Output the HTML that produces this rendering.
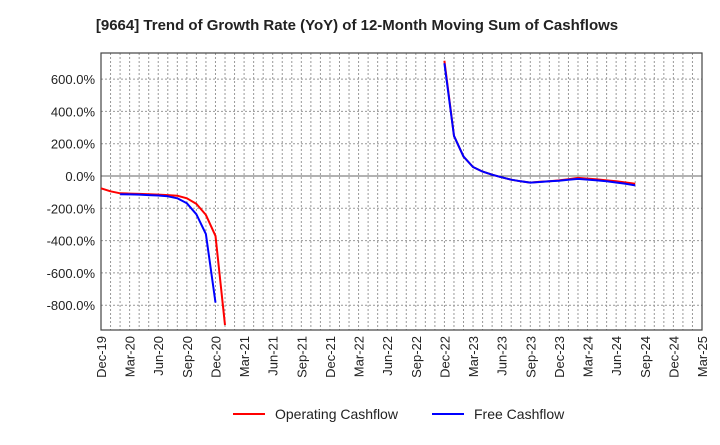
<!DOCTYPE html>
<html><head><meta charset="utf-8"><style>
body{margin:0;background:#fff;font-family:"Liberation Sans",sans-serif}
</style></head><body>
<svg width="720" height="440" xmlns="http://www.w3.org/2000/svg" font-family="Liberation Sans, sans-serif">
<text x="357" y="30" text-anchor="middle" font-size="15" font-weight="bold" fill="#222">[9664]  Trend of Growth Rate (YoY) of 12-Month Moving Sum of Cashflows</text>
<g id="grid"></g><g id="axes"></g><g id="series"></g>
<g>
<line x1="233" y1="414" x2="265" y2="414" stroke="#f00" stroke-width="2"/>
<text x="275" y="419" font-size="14" fill="#222">Operating Cashflow</text>
<line x1="432" y1="414" x2="464" y2="414" stroke="#00f" stroke-width="2"/>
<text x="474" y="419" font-size="14" fill="#222">Free Cashflow</text>
</g>
</svg>
<script>
const xLabels=["Dec-19","Mar-20","Jun-20","Sep-20","Dec-20","Mar-21","Jun-21","Sep-21","Dec-21","Mar-22","Jun-22","Sep-22","Dec-22","Mar-23","Jun-23","Sep-23","Dec-23","Mar-24","Jun-24","Sep-24","Dec-24","Mar-25"];
const yTicks=[600,400,200,0,-200,-400,-600,-800];
const opMonths=[0,1,2,3,4,5,6,7,8,9,10,11,12,13,36,37,38,39,40,41,42,43,44,45,46,47,48,49,50,51,52,53,54,55,56];
const opValues=[-76,-95,-107,-109,-111,-113,-115,-118,-122,-138,-173,-241,-371,-923,714,248,120,56,27,8,-8,-23,-33,-41,-36,-32,-27,-20,-12,-16,-21,-27,-33,-40,-48];
const fcfMonths=[2,3,4,5,6,7,8,9,10,11,12,36,37,38,39,40,41,42,43,44,45,46,47,48,49,50,51,52,53,54,55,56];
const fcfValues=[-113,-114,-115,-118,-121,-126,-138,-169,-237,-360,-784,698,248,120,56,27,8,-8,-23,-33,-41,-37,-33,-29,-23,-18,-22,-27,-33,-40,-48,-58];
const L=101,R=702,T=53,B=330,NM=63;
const X=m=>L+(R-L)*m/NM;
const Y=v=>176-v*32.3/200;
const NS="http://www.w3.org/2000/svg";
function mk(tag,at,parent){const e=document.createElementNS(NS,tag);for(const k in at)e.setAttribute(k,at[k]);document.getElementById(parent).appendChild(e);return e;}
for(let m=1;m<NM;m++){const l=mk('line',{x1:X(m),x2:X(m),y1:T,y2:B,stroke:'#999','stroke-dasharray':'2,2','stroke-width':1},'grid');

}
yTicks.forEach(v=>{const l=mk('line',{x1:L,x2:R,y1:Y(v),y2:Y(v),stroke:v===0?'#666':'#999','stroke-dasharray':v===0?'none':'2,2','stroke-width':1},'grid');


const t=mk('text',{x:L-6,y:Y(v)+5,'text-anchor':'end','font-size':13,fill:'#222'},'axes');t.textContent=v.toFixed(1)+'%';

});
const fr=mk('rect',{x:L,y:T,width:R-L,height:B-T,fill:'none',stroke:'#444','stroke-width':1.2},'axes');


xLabels.forEach((s,i)=>{const x=X(i*3);const t=mk('text',{transform:'translate('+(x+5)+','+(B+6)+') rotate(-90)','text-anchor':'end','font-size':13,fill:'#222'},'axes');t.textContent=s;

});
function draw(ms,vs,color,name){let segs=[],cur=[];ms.forEach((m,i)=>{if(cur.length&&m!==ms[i-1]+1){segs.push(cur);cur=[];}cur.push(X(m).toFixed(1)+','+Y(vs[i]).toFixed(1));});segs.push(cur);
segs.forEach(s=>{const p=mk('polyline',{points:s.join(' '),fill:'none',stroke:color,'stroke-width':2,'stroke-linejoin':'round'},'series');

});}
draw(opMonths,opValues,'#f00','operating-cashflow-line');
draw(fcfMonths,fcfValues,'#00f','free-cashflow-line');
</script>
</body></html>
